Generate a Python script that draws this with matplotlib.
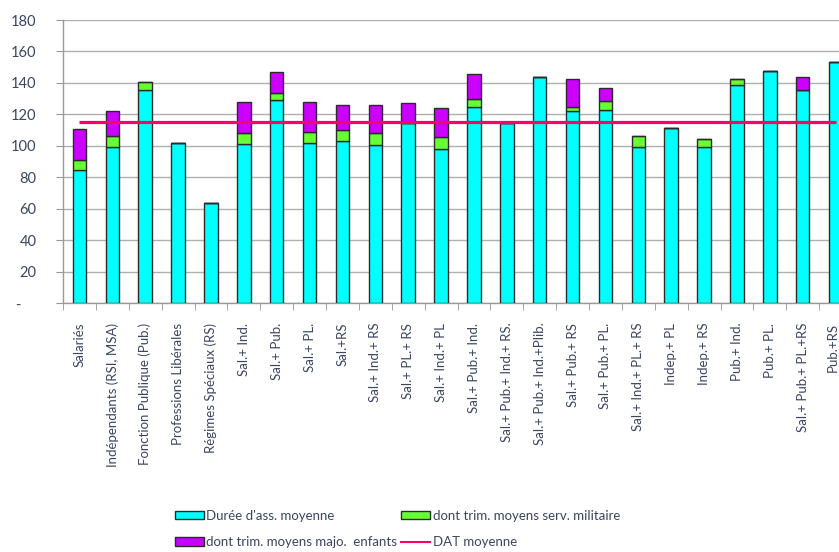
import matplotlib
matplotlib.use("Agg")
import matplotlib.pyplot as plt
import matplotlib.transforms as mtransforms
import numpy as np
from matplotlib.lines import Line2D
from matplotlib.patches import Patch

plt.rcParams['font.family'] = ['Lato', 'DejaVu Sans']

categories = ["Salariés", "Indépendants (RSI, MSA)", "Fonction Publique (Pub.)",
              "Professions Libérales", "Régimes Spéciaux (RS)", "Sal.+ Ind.", "Sal.+ Pub.",
              "Sal.+ PL.", "Sal.+RS", "Sal.+ Ind.+ RS", "Sal.+ PL.+ RS", "Sal.+ Ind.+ PL",
              "Sal.+ Pub.+ Ind.", "Sal.+ Pub.+ Ind.+ RS.", "Sal.+ Pub.+ Ind.+Plib.",
              "Sal.+ Pub.+ RS", "Sal.+ Pub.+ PL.", "Sal.+ Ind.+ PL.+ RS", "Indep.+ PL",
              "Indep.+ RS", "Pub.+ Ind.", "Pub.+ PL.", "Sal.+ Pub.+ PL.+RS", "Pub.+RS"]
duree = [84.5, 99, 135.5, 102, 64, 101.5, 129, 101.7, 103.4, 100.6, 114.5, 98,
         125, 114.5, 144, 122.3, 123, 99, 111.6, 99, 138.4, 147.7, 135.4, 153.2]
militaire = [6.5, 7, 5, 0, 0, 6.7, 4.7, 7, 7, 7.6, 0, 7.4,
             4.8, 0, 0, 2.6, 5.3, 7.6, 0, 5.5, 4, 0, 0, 0]
enfants = [19.5, 16, 0, 0, 0, 19.6, 13.3, 19, 15.5, 17.8, 13, 18.5,
           15.8, 0, 0, 17.5, 8.5, 0, 0, 0, 0, 0, 8.3, 0]
dat_moyenne = [115.4] * len(categories)
yticks = [0, 20, 40, 60, 80, 100, 120, 140, 160, 180]
ytick_labels = ["-    ", "20", "40", "60", "80", "100", "120", "140", "160", "180"]

txt_color = '#3A4660'
fig = plt.figure(figsize=(8.39, 5.52), dpi=100)
W, H = 839, 552
ax = fig.add_axes([63 / W, (H - 303.3) / H, 789 / W, 283.3 / H])

x = np.arange(len(categories))
bw = 0.41
ec = '#2a2a2a'
d = np.array(duree)
m = np.array(militaire)
e = np.array(enfants)
ax.bar(x, d, bw, color='#00FFFF', edgecolor=ec, linewidth=1, zorder=3)
ax.bar(x, m, bw, bottom=d, color='#66FF33', edgecolor=ec, linewidth=1, zorder=3)
ax.bar(x, e, bw, bottom=d + m, color='#CC00FF', edgecolor=ec, linewidth=1, zorder=3)
ax.plot(x, dat_moyenne, color='#FF0066', linewidth=2.3, zorder=4, solid_capstyle='butt')

ax.set_xlim(-0.5, len(categories) - 0.5)
ax.set_ylim(0, 180)
ax.set_yticks(yticks)
ax.set_yticklabels(ytick_labels)
ax.set_xticks(x)
ax.set_xticklabels(categories, rotation=90)
ax.set_xticks(np.arange(len(categories) + 1) - 0.5, minor=True)
ax.tick_params(axis='x', which='major', length=0, pad=14, labelsize=9.5, labelcolor=txt_color)
ax.tick_params(axis='x', which='minor', length=5, color='#999999', direction='out')
ax.tick_params(axis='y', length=5, color='#999999', pad=14, labelsize=10.5, labelcolor=txt_color)
ax.grid(axis='y', color='#B0B0B0', linewidth=1, zorder=0)
ax.set_axisbelow(True)
for s in ['top', 'right']:
    ax.spines[s].set_visible(False)
for s in ['left', 'bottom']:
    ax.spines[s].set_color('#999999')
    ax.spines[s].set_linewidth(1)

# nudge the last label slightly left so it stays inside the image
last = ax.get_xticklabels()[-1]
last.set_transform(last.get_transform() + mtransforms.ScaledTranslation(-3 / 100, 0, fig.dpi_scale_trans))

handles = [Patch(facecolor='#00FFFF', edgecolor=ec, linewidth=1),
           Patch(facecolor='#CC00FF', edgecolor=ec, linewidth=1),
           Patch(facecolor='#66FF33', edgecolor=ec, linewidth=1),
           Line2D([0], [0], color='#FF0066', linewidth=1.5)]
labels = ["Durée d'ass. moyenne", "dont trim. moyens majo.  enfants",
          "dont trim. moyens serv. militaire", "DAT moyenne"]
leg = fig.legend(handles, labels, ncol=2, loc='upper left', bbox_to_anchor=(168 / W, 1 - 503 / H),
                 frameon=False, fontsize=9.5, handlelength=2.2, handleheight=0.6,
                 handletextpad=0.2, columnspacing=0.3, labelspacing=1.1, borderpad=0,
                 labelcolor=txt_color)

fig.savefig('out.png', dpi=100)
